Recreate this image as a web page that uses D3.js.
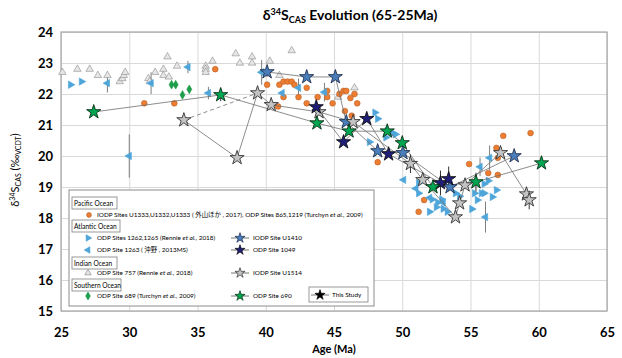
<!DOCTYPE html>
<html>
<head>
<meta charset="utf-8">
<script src="https://cdn.jsdelivr.net/npm/d3@7"></script>
<style>
  body { margin: 0; background: #fff; }
  text { font-family: Lato, "Open Sans", "Noto Sans CJK JP", sans-serif; }
</style>
</head>
<body>
<svg id="chart" width="622" height="358"></svg>
<script>
// age (Ma), d34S (permil), optional error
const pacific = [[31.1,21.7],[33.3,21.7],[36.3,22.8],[40.1,22.3],[41.0,22.3],[41.3,22.4],[41.6,22.4],[41.9,22.4],[42.1,22.3],
  [41.3,21.9],[42.4,21.9],[43.0,22.2],[43.0,21.7],[40.9,21.6],[43.8,21.9],[44.5,22.1],[44.5,21.9],[44.9,21.7],[45.4,22.0],
  [45.7,22.1],[45.9,22.1],[46.5,22.0],[46.2,21.87],[46.7,21.7],[45.8,21.45],[46.3,21.3],[48.2,19.8],[51.6,18.58],[51.2,18.2],
  [57.4,20.65],[59.4,20.74],[56.9,20.26],[57.0,19.94],[54.9,19.74],[56.3,19.45],[57.0,19.39]];
const site757 = [[25.1,22.7],[26.2,22.8],[27.1,22.8],[27.7,22.6],[28.4,22.6],[29.3,22.4],[29.5,22.5],[29.6,22.6],[29.7,22.7],
  [31.4,22.5],[31.5,22.4],[31.9,22.7],[32.5,22.8],[32.5,22.6],[32.9,22.55],[32.8,23.2],[33.5,22.9],[35.6,22.9],[35.6,22.8],
  [35.6,22.7],[36.1,23.06],[37.8,23.3],[38.1,23.0],[39.0,23.2],[39.0,23.0],[40.3,23.06],[41.9,23.4],[41.0,22.6],[46.5,22.2],[45.3,21.9]];
const site689 = [[33.1,22.3],[33.4,22.3],[34.4,22.15],[33.9,21.97]];
const sites1262 = [[25.7,22.3],[26.5,22.4],[47.6,20.45],[48.0,21.4],[48.2,21.2],[48.9,20.8],[49.3,20.73],[49.5,20.7],[48.8,20.6],
  [51.2,19.13],[51.2,18.8],[52.2,18.6],[52.0,18.2],[52.5,18.35],[52.9,18.6],[53.0,18.3],[53.3,18.2],[53.9,18.8],[54.2,18.7],
  [55.8,18.8],[56.0,18.8],[56.6,18.68],[56.9,18.9],[55.5,18.58],[55.3,18.8],[56.3,19.2],[56.0,19.1],[55.1,18.29],[52.6,18.5]];
const site1263 = [[28.4,22.35,0.3],[31.6,22.35,0.35],[34.3,22.87,0.2],[35.8,22.03,0.2],[30.0,20.0,0.7],[39.7,22.7,0.4],
  [41.2,22.03,0],[42.4,22.2,0.3],[44.3,22.06,0.3],[50.1,19.23,0],[55.7,19.65,0.3],[56.4,19.94,0.4],[56.1,18.03,0.5],
  [52.0,18.65,0],[53.0,18.5,0],[51.0,18.95,0]];

// this study
const u1410 = [[40.1,22.71,0.15],[43.0,22.55],[45.1,22.55],[45.9,21.1],[48.2,20.16],[50.05,20.1],[53.5,19.0],[58.2,20.0]];
const site1049 = [[43.7,21.58],[45.7,20.45],[47.4,21.2],[49.0,20.06],[52.8,19.13,0.4],[53.4,19.26,0.4]];
const u1514 = [[34.0,21.16],[37.9,19.94],[39.4,22.03],[40.4,21.65],[43.9,21.42],[46.4,21.1],[50.6,19.75,0.3],[51.5,19.23],
  [53.9,18.03],[54.2,18.48],[54.6,19.06],[57.2,20.1],[59.1,18.77],[59.3,18.58,0.3]];
const u1514Gap = [[34.0,21.16],[39.4,22.03]];
const site690 = [[27.4,21.42],[36.7,21.97,0.2],[43.75,21.06],[46.1,20.8],[48.9,20.8],[50.0,20.42],[52.25,19.0],[55.4,19.16,0.3],[60.2,19.77]];

const xTicks = [25, 30, 35, 40, 45, 50, 55, 60, 65];
const yTicks = [15, 16, 17, 18, 19, 20, 21, 22, 23, 24];

const svg = d3.select('#chart');
const x = d3.scaleLinear().domain([25, 65]).range([61, 607]);
const y = d3.scaleLinear().domain([15, 24]).range([311, 32]);

// grid + axes
const gx = svg.append('g')
  .attr('transform', 'translate(0,311)')
  .call(d3.axisBottom(x).tickValues(xTicks).tickSize(-279).tickPadding(17));
const gy = svg.append('g')
  .attr('transform', 'translate(61,0)')
  .call(d3.axisLeft(y).tickValues(yTicks).tickSize(-546).tickPadding(8));
[gx, gy].forEach(g => {
  g.select('.domain').remove();
  g.selectAll('line').attr('stroke', '#d9d9d9');
  g.selectAll('text').attr('fill', '#000').style('font-size', '13px').style('font-weight', 'bold');
});

svg.append('rect')
  .attr('x', 61).attr('y', 32).attr('width', 546).attr('height', 279)
  .attr('fill', 'none').attr('stroke', '#a6a6a6').attr('stroke-width', 1.2);

// titles
const title = svg.append('text')
  .attr('x', 350).attr('y', 20).attr('text-anchor', 'middle')
  .style('font-size', '14px').style('font-weight', 'bold');
title.append('tspan').text('δ');
title.append('tspan').attr('dy', -5).style('font-size', '9px').text('34');
title.append('tspan').attr('dy', 5).text('S');
title.append('tspan').attr('dy', 3).style('font-size', '9px').text('CAS');
title.append('tspan').attr('dy', -3).text(' Evolution (65-25Ma)');

const ylab = svg.append('text')
  .attr('transform', 'translate(19,170) rotate(-90)')
  .attr('text-anchor', 'middle')
  .style('font-size', '11px');
ylab.append('tspan').text('δ');
ylab.append('tspan').attr('dy', -4).style('font-size', '7px').text('34');
ylab.append('tspan').attr('dy', 4).text('S');
ylab.append('tspan').attr('dy', 2).style('font-size', '7px').text('CAS');
ylab.append('tspan').attr('dy', -2).text(' (‰');
ylab.append('tspan').attr('dy', 2).style('font-size', '7px').text('VCDT');
ylab.append('tspan').attr('dy', -2).text(')');

svg.append('text')
  .attr('x', 334).attr('y', 353).attr('text-anchor', 'middle')
  .style('font-size', '11px').style('font-weight', 'bold')
  .text('Age (Ma)');

// marker styles
const styles = {
  pacific: { type: d3.symbolCircle, size: 26, rot: 0, fill: '#ed7d31', stroke: '#b9612a' },
  right: { type: d3.symbolTriangle, size: 24, rot: 90, fill: '#4ea5d9', stroke: '#4ea5d9' },
  left: { type: d3.symbolTriangle, size: 24, rot: -90, fill: '#4ea5d9', stroke: '#4ea5d9' },
  indian: { type: d3.symbolTriangle, size: 24, rot: 0, fill: '#e6e6e6', stroke: '#8c8c8c' },
  s689: { type: d3.symbolDiamond, size: 22, rot: 0, fill: '#1e9e4a', stroke: '#1e9e4a' },
  u1410: { type: d3.symbolStar, size: 62, rot: 0, fill: '#4a7ebb', stroke: '#1f2f4f' },
  s1049: { type: d3.symbolStar, size: 62, rot: 0, fill: '#1f1f7a', stroke: '#111' },
  u1514: { type: d3.symbolStar, size: 62, rot: 0, fill: '#c3c3c3', stroke: '#333' },
  s690: { type: d3.symbolStar, size: 62, rot: 0, fill: '#00a651', stroke: '#0a2f14' },
  study: { type: d3.symbolStar, size: 62, rot: 0, fill: '#000', stroke: '#000' }
};

function errBars(data, color) {
  svg.append('g').selectAll('line')
    .data(data.filter(d => d[2]))
    .join('line')
    .attr('x1', d => x(d[0])).attr('x2', d => x(d[0]))
    .attr('y1', d => y(d[1] - d[2])).attr('y2', d => y(d[1] + d[2]))
    .attr('stroke', color).attr('stroke-width', 1);
}

function points(data, st) {
  svg.append('g').selectAll('path')
    .data(data)
    .join('path')
    .attr('d', d3.symbol().type(st.type).size(st.size))
    .attr('transform', d => `translate(${x(d[0])},${y(d[1])}) rotate(${st.rot})`)
    .attr('fill', st.fill)
    .attr('stroke', st.stroke)
    .attr('stroke-width', st.type === d3.symbolStar ? 0.9 : 0.6);
}

const line = d3.line().x(d => x(d[0])).y(d => y(d[1]));
function path(data, dash) {
  svg.append('path')
    .datum(data)
    .attr('d', line)
    .attr('fill', 'none')
    .attr('stroke', '#6f6f6f')
    .attr('stroke-width', 0.8)
    .attr('stroke-dasharray', dash || null);
}

// literature data
errBars(site1263, '#7f7f7f');
points(site757, styles.indian);
points(pacific, styles.pacific);
points(sites1262, styles.right);
points(site1263, styles.left);
points(site689, styles.s689);

// this study
[u1410, site1049, u1514, site690].forEach(s => path(s));
path(u1514Gap, '4,3');
[u1410, site1049, u1514, site690].forEach(s => errBars(s, '#333'));
points(u1410, styles.u1410);
points(u1514, styles.u1514);
points(site1049, styles.s1049);
points(site690, styles.s690);

// legend
const lg = svg.append('g').style('font-size', '6.4px');
lg.append('rect').attr('x', 69).attr('y', 190).attr('width', 305).attr('height', 116)
  .attr('fill', '#fff').attr('stroke', '#8c8c8c').attr('stroke-width', 1);

function header(label, yy, w) {
  lg.append('rect').attr('x', 72).attr('y', yy - 6).attr('width', w).attr('height', 12)
    .attr('fill', '#fff').attr('stroke', '#7f7f7f').attr('stroke-width', 0.8);
  lg.append('text').attr('x', 74).attr('y', yy + 2.5).style('font-size', '6.6px').text(label);
}
function legendMark(st, cx, cy, withLine) {
  if (withLine) {
    lg.append('line').attr('x1', cx - 9).attr('x2', cx + 9).attr('y1', cy).attr('y2', cy)
      .attr('stroke', '#555').attr('stroke-width', 0.8);
  }
  lg.append('path')
    .attr('d', d3.symbol().type(st.type).size(withLine ? 32 : 18)())
    .attr('transform', `translate(${cx},${cy}) rotate(${st.rot})`)
    .attr('fill', st.fill).attr('stroke', st.stroke).attr('stroke-width', 0.7);
}
function legendText(parts, tx, ty) {
  const t = lg.append('text').attr('x', tx).attr('y', ty + 2.2);
  parts.forEach(p => t.append('tspan').style('font-style', p[1] ? 'italic' : null).text(p[0]));
}

header('Pacific Ocean', 203, 45);
legendMark(styles.pacific, 89, 215, false);
legendText([['IODP Sites U1333,U1332,U1333 ( 外山ほか , 2017), ODP Sites 865,1219 (Turchyn '], ['et al.', true], [', 2009)']], 97, 215);

header('Atlantic Ocean', 226, 48);
legendMark(styles.right, 88, 238, false);
legendText([['ODP Sites 1262,1265 (Rennie '], ['et al.', true], [', 2018)']], 97, 238);
legendMark(styles.u1410, 240, 238, true);
legendText([['IODP Site U1410']], 253, 238);
legendMark(styles.left, 88, 250, false);
legendText([['ODP Site 1263 ( 沖野 , 2013MS)']], 97, 250);
legendMark(styles.s1049, 240, 250, true);
legendText([['ODP Site 1049']], 253, 250);

header('Indian Ocean', 263, 45);
legendMark(styles.indian, 88, 273, false);
legendText([['ODP Site 757 (Rennie '], ['et al.', true], [', 2018)']], 97, 273);
legendMark(styles.u1514, 240, 273, true);
legendText([['IODP Site U1514']], 253, 273);

header('Southern Ocean', 285, 49);
legendMark(styles.s689, 88, 296, false);
legendText([['ODP Site 689 (Turchyn '], ['et al.', true], [', 2009)']], 97, 296);
legendMark(styles.s690, 240, 296, true);
legendText([['ODP Site 690']], 253, 296);

lg.append('rect').attr('x', 309).attr('y', 287).attr('width', 59).attr('height', 15)
  .attr('fill', '#fff').attr('stroke', '#7f7f7f').attr('stroke-width', 0.8);
legendMark(styles.study, 320, 295, true);
legendText([['This Study']], 332, 295);
</script>
</body>
</html>
